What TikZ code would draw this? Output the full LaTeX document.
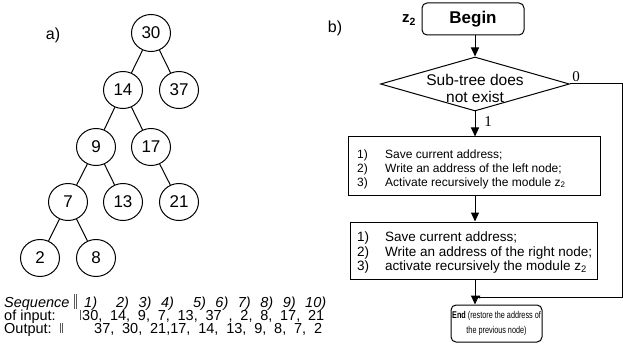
\documentclass[tikz,border=0pt]{standalone}
\usepackage{fontspec}
\setmainfont{Liberation Sans}
\newfontfamily\labelserif{Liberation Serif}
\usetikzlibrary{arrows.meta,shapes.geometric}

\begin{document}
\begin{tikzpicture}[x=1pt,y=-1pt,
  treenode/.style={draw, line width=1pt, ellipse, minimum width=39pt,
    minimum height=37pt, inner sep=0pt, font=\fontsize{17}{20}\selectfont},
  treeedge/.style={line width=1pt},
  rowtext/.style={anchor=base west, inner sep=0pt, font=\fontsize{14.5}{16}\selectfont},
  rowitalic/.style={rowtext, font=\fontsize{14.5}{16}\selectfont\itshape},
  barline/.style={line width=0.7pt, black!65},
  block/.style={draw, line width=1pt},
  roundblock/.style={draw, line width=1pt, rounded corners=5pt},
  flow/.style={line width=1pt, -{Triangle[length=9pt,width=8pt]}},
  backflow/.style={line width=1pt, -{Triangle[length=3pt,width=3pt]}},
  itemA/.style={anchor=base west, inner sep=0pt, font=\fontsize{12}{14}\selectfont},
  itemB/.style={anchor=base west, inner sep=0pt, font=\fontsize{13.5}{15}\selectfont},
  branch/.style={font=\labelserif\fontsize{15}{17}\selectfont, inner sep=0pt}
]
\useasboundingbox (0,0) rectangle (623,358);

% ---------- a) binary search tree ----------
\node[font=\fontsize{16}{18}\selectfont] (taga) at (53,35) {a)};

\node[treenode] (n30) at (151,33)  {30};
\node[treenode] (n14) at (123,90)  {14};
\node[treenode] (n37) at (179,90)  {37};
\node[treenode] (n9)  at (96,147)  {9};
\node[treenode] (n17) at (151,147) {17};
\node[treenode] (n7)  at (68,202)  {7};
\node[treenode] (n13) at (123,202) {13};
\node[treenode] (n21) at (179,202) {21};
\node[treenode] (n2)  at (40,258)  {2};
\node[treenode] (n8)  at (96,258)  {8};

\draw[treeedge] (n30) -- (n14);
\draw[treeedge] (n30) -- (n37);
\draw[treeedge] (n14) -- (n9);
\draw[treeedge] (n14) -- (n17);
\draw[treeedge] (n9)  -- (n7);
\draw[treeedge] (n9)  -- (n13);
\draw[treeedge] (n17) -- (n21);
\draw[treeedge] (n7)  -- (n2);
\draw[treeedge] (n7)  -- (n8);

% ---------- input / output sequences ----------
\node[rowitalic] (seq) at (4,307) {Sequence};
\node[rowtext] (inp) at (4,320) {of input:};
\node[rowtext] (outp) at (4,333) {Output:};

\draw[barline] (74.5,294) -- (74.5,309);
\draw[barline] (76.5,294) -- (76.5,309);
\draw[barline] (80,310) -- (80,320);
\draw[barline] (60,323) -- (60,333);
\draw[barline] (62,323) -- (62,333);

\node[rowitalic] (seqnums) at (84,307)
  {\makebox[242pt][s]{1) \ 2) 3) 4) \ 5) 6) 7) 8) 9) 10)}};
\node[rowtext] (innums) at (82,320)
  {\makebox[242pt][s]{30, 14, 9, 7, 13, 37 , 2, 8, 17, 21}};
\node[rowtext] (outnums) at (94,333)
  {\makebox[228pt][s]{37, 30, 21,17, 14, 13, 9, 8, 7, 2}};

% ---------- b) flowchart of module z2 ----------
\node[font=\fontsize{16}{18}\selectfont] (tagb) at (335,28) {b)};
\node[font=\fontsize{15}{17}\selectfont\bfseries] (zname) at (409,20) {z\textsubscript{2}};

\node[roundblock, minimum width=102pt, minimum height=32pt,
      font=\fontsize{17}{19}\selectfont\bfseries] (begin) at (473,19) {Begin};

\node[diamond, draw, line width=1pt, minimum width=189pt, minimum height=54pt,
      inner sep=0pt, aspect=3.5] (cond) at (475,84) {};
\node[align=center, font=\fontsize{15.5}{17}\selectfont, inner sep=0pt] (condtext) at (475,88.5)
  {Sub-tree does\\not exist};

\node[block, minimum width=252pt, minimum height=58pt] (left) at (474,166) {};
\node[itemA] (l1n) at (357,159) {1)};
\node[itemA] (l1t) at (385,159) {Save current address;};
\node[itemA] (l2n) at (357,172.5) {2)};
\node[itemA] (l2t) at (385,172.5) {Write an address of the left node;};
\node[itemA] (l3n) at (357,186) {3)};
\node[itemA] (l3t) at (385,186) {Activate recursively the module z\textsubscript{2}};

\node[block, minimum width=247pt, minimum height=57pt] (right) at (473.5,250.5) {};
\node[itemB] (r1n) at (357,241.5) {1)};
\node[itemB] (r1t) at (385,241.5) {Save current address;};
\node[itemB] (r2n) at (357,256) {2)};
\node[itemB] (r2t) at (385,256) {Write an address of the right node;};
\node[itemB] (r3n) at (357,270.5) {3)};
\node[itemB] (r3t) at (385,270.5) {activate recursively the module z\textsubscript{2}};

\node[roundblock, minimum width=91pt, minimum height=37pt, align=center, inner sep=1pt,
      font=\fontsize{9.8}{15}\selectfont] (end) at (496.5,323.5)
  {\scalebox{0.74}[1]{\textbf{End} (restore the address of}\\
   \scalebox{0.74}[1]{the previous node)}};

% connectors
\draw[flow] (begin.south -| cond.north) -- (cond.north);
\draw[flow] (cond.south) -- (cond.south |- left.north);
\draw[flow] (cond.south |- left.south) -- (cond.south |- right.north);
\draw[flow] (cond.south |- right.south) -- (cond.south |- end.north);

\coordinate (loopa) at (622,84);
\coordinate (loopb) at (622,297);
\coordinate (loopc) at (477,297);
\draw[backflow] (cond.east) -- (loopa) -- (loopb) -- (loopc);

\node[branch] (lbl0) at (576,77) {0};
\node[branch] (lbl1) at (488,122) {1};
\end{tikzpicture}
\end{document}
